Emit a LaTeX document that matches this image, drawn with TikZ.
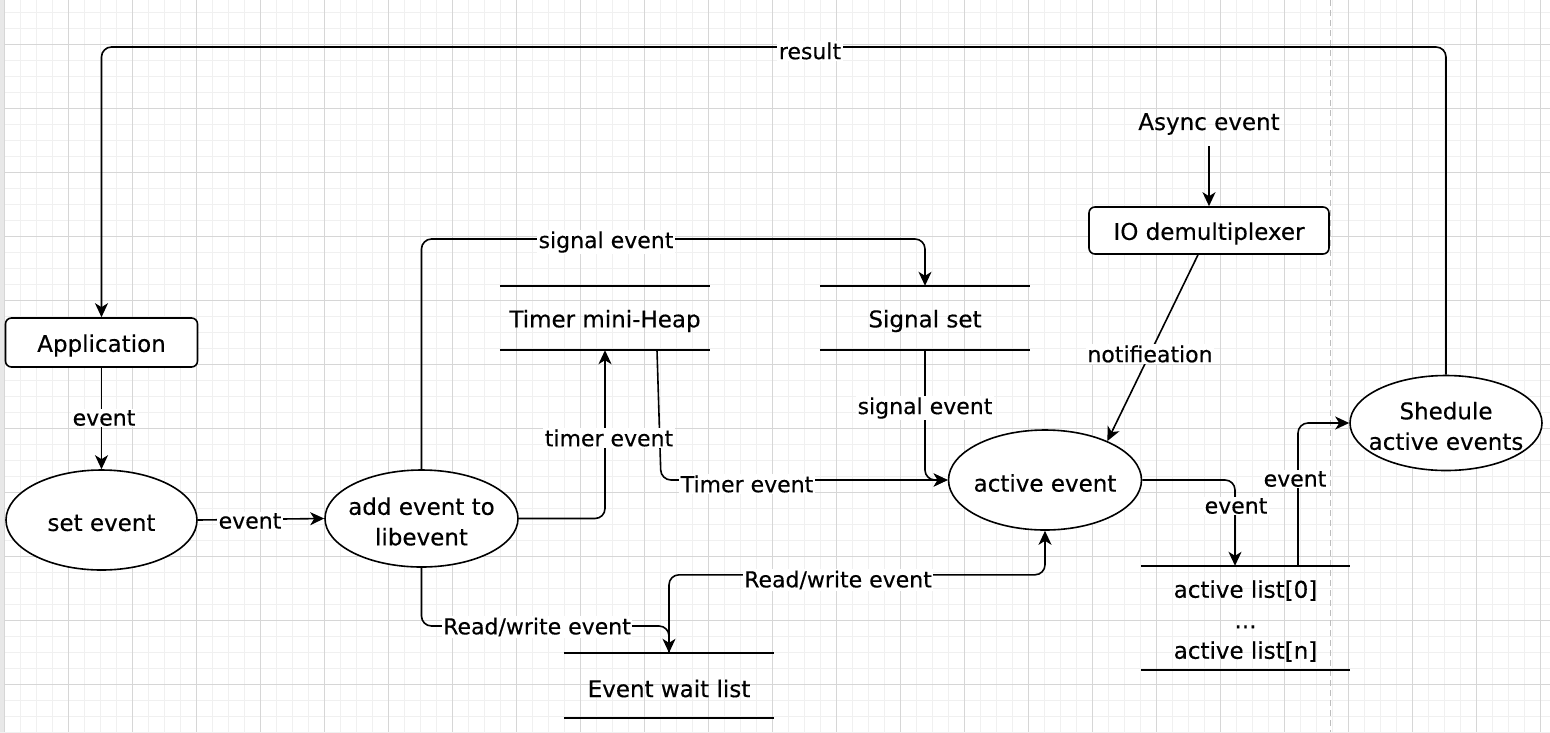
\documentclass[tikz,border=0pt]{standalone}
\usepackage{fontspec}
\setmainfont{DejaVu Sans}[FakeBold=0.35]
\usetikzlibrary{shapes.geometric,arrows.meta,calc}
\definecolor{gmin}{HTML}{F0F0F0}
\definecolor{gmaj}{HTML}{D6D6D6}
\definecolor{gpage}{HTML}{BDBDBD}
\begin{document}
\begin{tikzpicture}[x=1pt,y=-1pt,
  every node/.style={font=\fontsize{23}{30.5}\selectfont},
  conn/.style={draw, line width=1.6pt, rounded corners=10pt, -{Stealth[length=14pt,width=13pt,inset=4pt]}},
  ell/.style={ellipse, draw, line width=1.6pt, inner sep=0pt, fill=white},
  rbox/.style={rectangle, draw, rounded corners=6pt, line width=1.6pt, inner sep=0pt, fill=white},
  store/.style={rectangle, inner sep=0pt, minimum width=210pt, minimum height=64pt},
  txt/.style={align=center, inner sep=0pt, yshift=-3pt},
  lab/.style={fill=white, inner sep=1.5pt, font=\fontsize{22}{26}\selectfont},
  minorg/.style={draw=gmin, line width=1pt},
  majorg/.style={draw=gmaj, line width=1pt}
]
\useasboundingbox (0,0) rectangle (1550,732);
\fill[white] (0,0) rectangle (1550,732);
% grid
\foreach \x in {4,20,...,1550} \draw[minorg] (\x,0) -- (\x,732);
\foreach \y in {12,28,...,732} \draw[minorg] (0,\y) -- (1550,\y);
\foreach \x in {4,68,...,1550} \draw[majorg] (\x,0) -- (\x,732);
\foreach \y in {44,108,...,732} \draw[majorg] (0,\y) -- (1550,\y);
\fill[gray!18] (0,0) rectangle (4,732);
\draw[draw=gpage, line width=1pt, dash pattern=on 6pt off 4pt] (1330,0) -- (1330,732);

% shapes
\node[rbox, minimum width=192pt, minimum height=49pt] (app) at (101.5,342.5) {};
\node[ell, minimum width=191pt, minimum height=100pt] (set) at (101.5,520) {};
\node[ell, minimum width=193pt, minimum height=97pt] (add) at (421.5,518.5) {};
\node[store] (tmh) at (605,318) {};
\node[store] (sig) at (925,318) {};
\node[ell, minimum width=193pt, minimum height=100pt] (ae) at (1045,480) {};
\node[txt] (async) at (1209,121) {Async event};
\node[rbox, minimum width=240pt, minimum height=47pt] (io) at (1209,230.5) {};
\node[ell, minimum width=192pt, minimum height=95pt] (sch) at (1446,423) {};
\node[store, minimum width=209pt, minimum height=104pt] (al) at (1245.5,618) {};
\node[store, minimum width=210pt, minimum height=65pt] (ewl) at (669,685.5) {};

% texts
\node[txt] (appt) at (app.center) {Application};
\node[txt] (sett) at (set.center) {set event};
\node[txt] (addt) at (add.center) {add event to\\libevent};
\node[txt] (tmht) at (tmh.center) {Timer mini-Heap};
\node[txt] (sigt) at (sig.center) {Signal set};
\node[txt] (aet) at (ae.center) {active event};
\node[txt] (iot) at (io.center) {IO demultiplexer};
\node[txt] (scht) at (sch.center) {Shedule\\active events};
\node[txt] (alt) at (al.center) {active list[0]\\...\\active list[n]};
\node[txt] (ewlt) at (ewl.center) {Event wait list};

% store lines
\foreach \n in {tmh,sig,al,ewl}{
  \draw[line width=1.6pt] (\n.north west) -- (\n.north east);
  \draw[line width=1.6pt] (\n.south west) -- (\n.south east);
}

% helper coordinates
\coordinate (rtop) at (0,47);
\coordinate (stop) at (0,239);
\coordinate (tb) at (661,480);
\coordinate (rw1) at (0,626);

% connectors
\draw[conn] (app.south) -- (set.north);
\draw[conn] (set.east) -- (add.west);
\draw[conn] (sch.north) -- (sch.north |- rtop) -- (app.north |- rtop) -- (app.north);
\draw[conn] (add.north) -- (add.north |- stop) -- (sig.north |- stop) -- (sig.north);
\draw[conn] (add.east) -| (tmh.south);
\draw[conn] ([xshift=52pt]tmh.south) -- (tb) -- (ae.west);
\draw[conn] (sig.south) |- (ae.west);
\draw[conn] ($(async.center)+(0,22)$) -- (io.north);
\draw[conn] ([xshift=-11pt]io.south) -- (ae.32);
\draw[conn] (ae.east) -| ([xshift=-10.5pt]al.north);
\draw[conn] ([xshift=52.5pt]al.north) |- (sch.west);
\draw[conn] (add.south) |- (rw1 -| ewl.north) -- (ewl.north);
\draw[conn] (ewl.north) -- ++(0,-78) -| (ae.south);

% labels
\node[lab] (l1) at (104,418) {event};
\node[lab] (l2) at (250,521) {event};
\node[lab] (l3) at (810,51) {result};
\node[lab] (l4) at (606,242) {signal event};
\node[lab] (l5) at (609,438) {timer event};
\node[lab] (l6) at (747,484) {Timer event};
\node[lab] (l7) at (925,408) {signal event};
\node[lab] (l8) at (1150,354) {notifieation};
\node[lab] (l9) at (1236,506) {event};
\node[lab] (l10) at (1295,479) {event};
\node[lab] (l11) at (537,627) {Read/write event};
\node[lab] (l12) at (838,580) {Read/write event};
\end{tikzpicture}
\end{document}
